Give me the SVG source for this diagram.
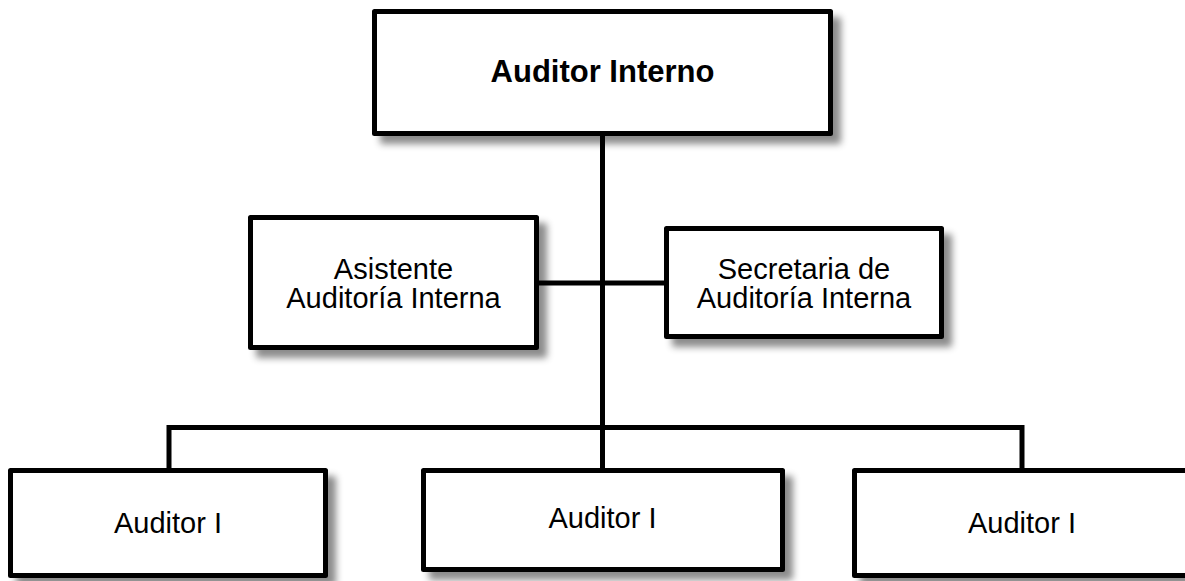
<svg xmlns="http://www.w3.org/2000/svg" width="1185" height="581" viewBox="0 0 1185 581">
<defs>
<filter id="sh" x="-10%" y="-10%" width="130%" height="140%">
<feDropShadow dx="8" dy="8" stdDeviation="3.5" flood-color="#000" flood-opacity="0.45"/>
</filter>
<style>
.box{fill:#fff;stroke:#000;stroke-width:5;stroke-linejoin:round;filter:url(#sh)}
.t{font-family:"Liberation Sans",Arial,sans-serif;font-size:29px;fill:#000;text-anchor:middle}
.b{font-weight:bold;font-size:31px}
.c{fill:none;stroke:#000;stroke-width:5;stroke-linejoin:miter}
</style>
</defs>
<rect width="1185" height="581" fill="#fff"/>
<g id="connectors">
<path class="c" d="M602.5 136 V470"/>
<path class="c" d="M539 283 H664"/>
<path class="c" d="M169 470 V427.5 H1022 V470"/>
</g>
<g id="auditor-interno">
<rect class="box" x="374.5" y="11.5" width="456" height="122"/>
<text class="t b" x="602.5" y="82">Auditor Interno</text>
</g>
<g id="asistente">
<rect class="box" x="250.5" y="217.5" width="286" height="130"/>
<text class="t" x="393.5" y="279"><tspan x="393.5">Asistente</tspan><tspan x="393.5" dy="29">Auditoría Interna</tspan></text>
</g>
<g id="secretaria">
<rect class="box" x="666.5" y="228.5" width="275" height="108"/>
<text class="t" x="804" y="279"><tspan x="804">Secretaria de</tspan><tspan x="804" dy="29">Auditoría Interna</tspan></text>
</g>
<g id="auditor-1">
<rect class="box" x="10.5" y="470.5" width="315" height="105"/>
<text class="t" x="168" y="533">Auditor I</text>
</g>
<g id="auditor-2">
<rect class="box" x="423.5" y="470.5" width="359" height="99"/>
<text class="t" x="602.5" y="528">Auditor I</text>
</g>
<g id="auditor-3">
<rect class="box" x="854.5" y="470.5" width="345" height="105"/>
<text class="t" x="1022" y="533">Auditor I</text>
</g>
</svg>
